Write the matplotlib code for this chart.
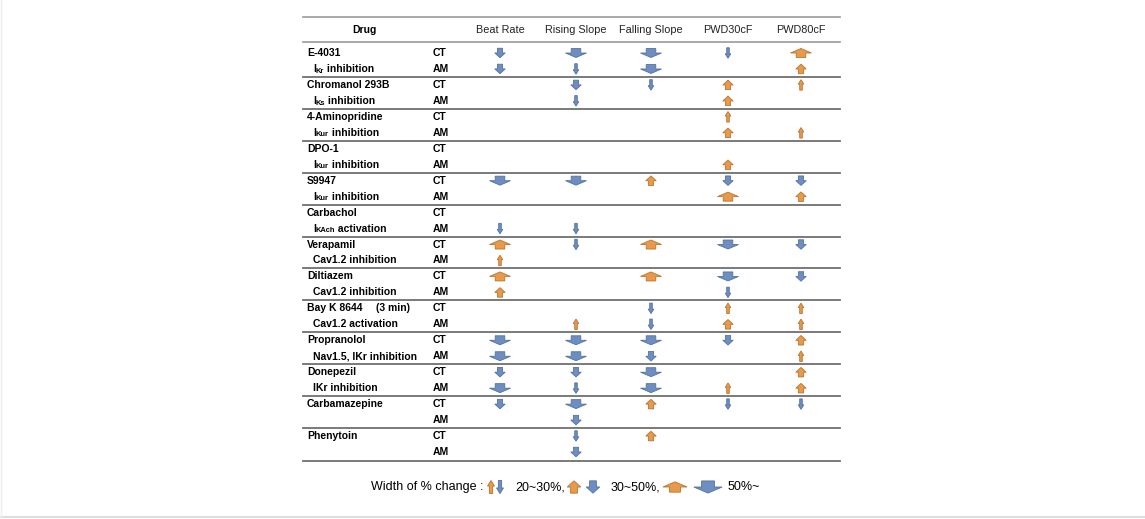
import matplotlib.pyplot as plt
from matplotlib.patches import Polygon

plt.rcParams['font.family'] = ['Liberation Sans', 'DejaVu Sans']

columns = ["Beat Rate", "Rising Slope", "Falling Slope", "PWD30cF", "PWD80cF"]
drugs = ["E-4031", "Chromanol 293B", "4-Aminopridine", "DPO-1", "S9947", "Carbachol",
         "Verapamil", "Diltiazem", "Bay K 8644", "Propranolol", "Donepezil",
         "Carbamazepine", "Phenytoin"]
# (main, subscript, rest)
targets = [("I", "Kr", " inhibition"), ("I", "Ks", " inhibition"),
           ("I", "Kur", " inhibition"), ("I", "Kur", " inhibition"),
           ("I", "Kur", " inhibition"), ("I", "KAch", " activation"),
           ("Cav1.2 inhibition", "", ""), ("Cav1.2 inhibition", "", ""),
           ("Cav1.2 activation", "", ""), ("Nav1.5, IKr inhibition", "", ""),
           ("IKr inhibition", "", ""), ("", "", ""), ("", "", "")]
models = ["CT", "AM"]

# + up / - down ; 1: 20~30%, 2: 30~50%, 3: 50%~
changes = [
    [-2, -3, -3, -1, 3],   # E-4031 CT
    [-2, -1, -3, 0, 2],    # E-4031 AM
    [0, -2, -1, 2, 1],     # Chromanol CT
    [0, -1, 0, 2, 0],
    [0, 0, 0, 1, 0],       # 4-AP CT
    [0, 0, 0, 2, 1],
    [0, 0, 0, 0, 0],       # DPO-1 CT
    [0, 0, 0, 2, 0],
    [-3, -3, 2, -2, -2],   # S9947 CT
    [0, 0, 0, 3, 2],
    [0, 0, 0, 0, 0],       # Carbachol CT
    [-1, -1, 0, 0, 0],
    [3, -1, 3, -3, -2],    # Verapamil CT
    [1, 0, 0, 0, 0],
    [3, 0, 3, -3, -2],     # Diltiazem CT
    [2, 0, 0, -1, 0],
    [0, 0, -1, 1, 1],      # Bay K CT
    [0, 1, -1, 2, 1],
    [-3, -3, -3, -2, 2],   # Propranolol CT
    [-3, -3, -2, 0, 1],
    [-2, -2, -3, 0, 2],    # Donepezil CT
    [-3, -1, -3, 1, 2],
    [-2, -3, 2, -1, -1],   # Carbamazepine CT
    [0, -2, 0, 0, 0],
    [0, -1, 2, 0, 0],      # Phenytoin CT
    [0, -2, 0, 0, 0],
]

BLUE, BLUE_E = '#6E8DC0', '#54739F'
ORANGE, ORANGE_E = '#E8994A', '#B8742F'
# (head half width, shaft half width, total height, head height)
SHAPES = {1: (2.8, 1.3, 10.5, 4.5), 2: (5.2, 2.6, 9.5, 4.8), 3: (10.5, 4.8, 9, 4.5)}


def arrow(ax, x, y, code, scale=1.0):
    hw, sw, h, hh = [v * scale for v in SHAPES[abs(code)]]
    d = -1 if code > 0 else 1  # pixel y grows downward
    tip = y + d * h / 2
    base = y - d * h / 2
    neck = tip - d * hh
    pts = [(x - sw, base), (x + sw, base), (x + sw, neck), (x + hw, neck),
           (x, tip), (x - hw, neck), (x - sw, neck)]
    fc, ec = (ORANGE, ORANGE_E) if code > 0 else (BLUE, BLUE_E)
    ax.add_patch(Polygon(pts, closed=True, fc=fc, ec=ec, lw=0.6, zorder=3))


fig = plt.figure(figsize=(11.45, 5.19), dpi=100)
ax = fig.add_axes([0, 0, 1, 1])
ax.set_xlim(0, 1145)
ax.set_ylim(519, 0)
ax.axis('off')
renderer = fig.canvas.get_renderer()


def label_with_sub(x, y, parts, size):
    main, sub, rest = parts
    t = ax.text(x, y, main, ha='left', va='center', fontsize=size, fontweight='bold')
    if not sub:
        return
    x += t.get_window_extent(renderer).width
    s = ax.text(x, y + 2.2, sub, ha='left', va='center', fontsize=size * 0.72,
                fontweight='bold')
    x += s.get_window_extent(renderer).width
    ax.text(x, y, rest, ha='left', va='center', fontsize=size, fontweight='bold')


x0, x1 = 303, 840
col_x = [500, 576, 651, 728, 801]
row0, dy = 53, 15.96
fs = 7.5

# frame of the figure
ax.plot([0, 1145], [517, 517], color='#dddddd', lw=1.5)
ax.plot([1, 1], [0, 517], color='#eeeeee', lw=1)

# header
ax.plot([x0, x1], [17, 17], color='#999999', lw=1.2)
ax.text(364, 30, "Drug", ha='center', va='center', fontsize=fs, fontweight='bold')
for cx, name in zip(col_x, columns):
    ax.text(cx, 30, name, ha='center', va='center', fontsize=fs + 0.3,
            color='#222222', family=['Liberation Sans Narrow', 'Liberation Sans'])
ax.plot([x0, x1], [42, 42], color='#999999', lw=1.2)

for i, row in enumerate(changes):
    y = row0 + i * dy
    g = i // 2
    if i % 2 == 0:
        label = drugs[g]
        ax.text(307, y, label, ha='left', va='center', fontsize=fs, fontweight='bold')
        if label == "Bay K 8644":
            ax.text(376, y, "(3 min)", ha='left', va='center', fontsize=fs, fontweight='bold')
    else:
        label_with_sub(313, y, targets[g], fs)
        if g < len(drugs) - 1:
            ax.plot([x0, x1], [y + 8, y + 8], color='#707070', lw=1.3)
    ax.text(433, y, models[i % 2], ha='left', va='center', fontsize=fs, fontweight='bold')
    for cx, c in zip(col_x, row):
        if c != 0:
            arrow(ax, cx, y, c)

ax.plot([x0, x1], [461, 461], color='#707070', lw=1.3)

# legend
ly = 487
lfs = 9
ax.text(371, ly, "Width of % change :", ha='left', va='center', fontsize=lfs)
arrow(ax, 491, ly, 1, 1.25)
arrow(ax, 500, ly, -1, 1.25)
ax.text(515, ly, "20~30%,", ha='left', va='center', fontsize=lfs)
arrow(ax, 574, ly, 2, 1.3)
arrow(ax, 593, ly, -2, 1.3)
ax.text(611, ly, "30~50%,", ha='left', va='center', fontsize=lfs)
arrow(ax, 675, ly, 3, 1.15)
arrow(ax, 708, ly, -3, 1.35)
ax.text(728, ly, "50%~", ha='left', va='center', fontsize=lfs)

fig.savefig('out.png', dpi=100)
